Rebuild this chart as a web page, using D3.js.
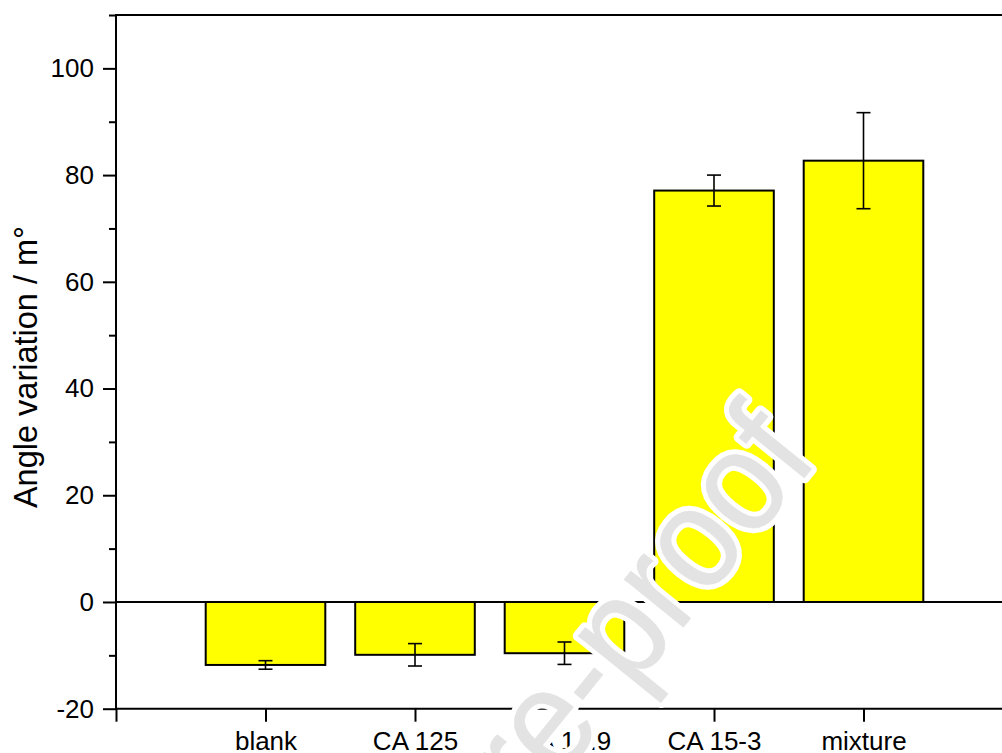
<!DOCTYPE html>
<html>
<head>
<meta charset="utf-8">
<script src="https://cdn.jsdelivr.net/npm/d3@7"></script>
<style>
  html, body { margin: 0; padding: 0; background: #fff; }
  svg { display: block; }
  text { font-family: "Liberation Sans", Arial, sans-serif; }
</style>
</head>
<body>
<svg id="chart" width="1002" height="753"></svg>
<script>
// ---- data ----
const categories = ["blank", "CA 125", "CA 19.9", "CA 15-3", "mixture"];
const values = [-11.8, -9.9, -9.6, 77.1, 82.7];
const errors = [0.8, 2.1, 2.1, 2.9, 9.0];
const majorTicks = [-20, 0, 20, 40, 60, 80, 100];
const minorTicks = [-10, 10, 30, 50, 70, 90, 110];
const yTitle = "Angle variation / m\u00B0";
const watermark = "Journal Pre-proof";

// ---- layout ----
const mLeft = 116, mRight = 1013, mTop = 15, mBottom = 708.7;

const svg = d3.select("#chart");

const x = d3.scaleLinear().domain([0, categories.length + 1]).range([mLeft, mRight]);
const y = d3.scaleLinear().domain([-20, 110]).range([mBottom, mTop]);
const step = x(1) - x(0);
const barW = step * 0.8;

const data = categories.map((c, i) => ({ c, i: i + 1, v: values[i], e: errors[i] }));

// bars
svg.append("g").selectAll("rect").data(data).join("rect")
  .attr("x", d => x(d.i) - barW / 2)
  .attr("width", barW)
  .attr("y", d => y(Math.max(0, d.v)))
  .attr("height", d => Math.abs(y(d.v) - y(0)))
  .attr("fill", "#ffff00")
  .attr("stroke", "#000")
  .attr("stroke-width", 2);

// zero line
svg.append("line")
  .attr("x1", mLeft).attr("x2", mRight)
  .attr("y1", y(0)).attr("y2", y(0))
  .attr("stroke", "#000").attr("stroke-width", 2);

// error bars
const eb = svg.append("g").attr("stroke", "#000").attr("stroke-width", 1.6);
const capW = 14;
data.forEach(d => {
  const cx = x(d.i);
  eb.append("line").attr("x1", cx).attr("x2", cx).attr("y1", y(d.v - d.e)).attr("y2", y(d.v + d.e));
  eb.append("line").attr("x1", cx - capW / 2).attr("x2", cx + capW / 2).attr("y1", y(d.v + d.e)).attr("y2", y(d.v + d.e));
  eb.append("line").attr("x1", cx - capW / 2).attr("x2", cx + capW / 2).attr("y1", y(d.v - d.e)).attr("y2", y(d.v - d.e));
});

// top frame line
svg.append("line")
  .attr("x1", mLeft).attr("x2", mRight)
  .attr("y1", mTop).attr("y2", mTop)
  .attr("stroke", "#000").attr("stroke-width", 2);

// left axis: major
const yAxis = svg.append("g").attr("transform", `translate(${mLeft},0)`)
  .call(d3.axisLeft(y).tickValues(majorTicks).tickSize(13).tickSizeOuter(0).tickPadding(9)
    .tickFormat(d => String(d)));
yAxis.select(".domain").remove();
yAxis.selectAll("line").attr("stroke", "#000").attr("stroke-width", 2);
yAxis.selectAll("text").attr("font-size", 26).attr("fill", "#000")
  .attr("font-family", "'Liberation Sans', Arial, sans-serif");

// left axis: minor
const yMinor = svg.append("g").attr("transform", `translate(${mLeft},0)`)
  .call(d3.axisLeft(y).tickValues(minorTicks).tickSize(7).tickSizeOuter(0).tickFormat(""));
yMinor.select(".domain").remove();
yMinor.selectAll("line").attr("stroke", "#000").attr("stroke-width", 2);

// bottom axis
const xAxis = svg.append("g").attr("transform", `translate(0,${mBottom})`)
  .call(d3.axisBottom(x).tickValues(d3.range(0, categories.length + 2)).tickSize(13).tickSizeOuter(0)
    .tickFormat(i => categories[i - 1] || ""));
xAxis.select(".domain").remove();
xAxis.selectAll("line").attr("stroke", "#000").attr("stroke-width", 2);
xAxis.selectAll("text").attr("font-size", 26).attr("fill", "#000")
  .attr("font-family", "'Liberation Sans', Arial, sans-serif")
  .attr("y", 750 - mBottom).attr("dy", null);

// axis lines
svg.append("line").attr("x1", mLeft).attr("x2", mLeft).attr("y1", mTop - 1).attr("y2", mBottom)
  .attr("stroke", "#000").attr("stroke-width", 2);
svg.append("line").attr("x1", mLeft - 1).attr("x2", mRight).attr("y1", mBottom).attr("y2", mBottom)
  .attr("stroke", "#000").attr("stroke-width", 2);

// y title
svg.append("text")
  .attr("transform", "translate(36.5,367) rotate(-90)")
  .attr("text-anchor", "middle")
  .attr("font-size", 32.5)
  .attr("fill", "#000")
  .text(yTitle);

// watermark (white halo + grey glyphs), positioned by its last "o"
const wmFs = 131, wmAngle = -51, wmStretch = 1.1;
const wmG = svg.append("g");
const halo = wmG.append("text")
  .attr("font-size", wmFs)
  .attr("fill", "#fff")
  .attr("stroke", "#fff")
  .attr("stroke-width", 10)
  .attr("stroke-linejoin", "round")
  .text(watermark);
wmG.append("text")
  .attr("font-size", wmFs)
  .attr("fill", "#e3e3e3")
  .attr("stroke", "#e3e3e3")
  .attr("stroke-width", 0.5)
  .text(watermark);
const oIdx = watermark.lastIndexOf("o");
let oStart = 0;
try { oStart = halo.node().getStartPositionOfChar(oIdx).x; } catch (e) { oStart = wmFs * 6.9; }
const oCx = oStart + 0.278 * wmFs;
const oCy = -0.26 * wmFs;
wmG.attr("transform",
  `translate(745,491.7) rotate(${wmAngle}) scale(1,${wmStretch}) translate(${-oCx},${-oCy})`);
</script>
</body>
</html>
